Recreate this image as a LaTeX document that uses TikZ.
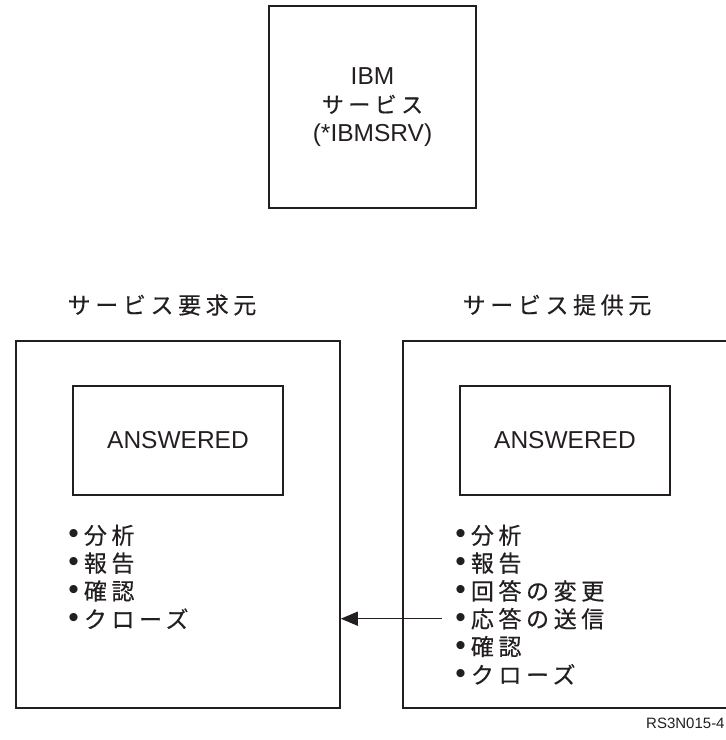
\documentclass[tikz,border=0pt]{standalone}
\usepackage{fontspec}
\setmainfont{Liberation Sans}
\newfontfamily\jpFont[LetterSpace=20, FakeBold=0.4]{Noto Sans CJK JP}
\usetikzlibrary{positioning, arrows.meta}
\tikzstyle{figure} = [x = .5pt, y = -.5pt]
\definecolor{lineColor}{RGB}{35,31,32}
\tikzstyle{boxStyle} = [draw=lineColor, line width=.8pt, inner sep=0pt, align=center]
\tikzstyle{latinText} = [font=\fontsize{12.25}{14.25}\selectfont, text=lineColor]
\tikzstyle{jpText} = [font=\fontsize{11.5}{13.9}\selectfont\jpFont, text=lineColor]
\tikzstyle{listItem} = [jpText, anchor=west, inner sep=0pt]
\tikzstyle{messageArrow} = [draw=lineColor, line width=.7pt, -{Triangle[length=8.5pt, width=7pt]}]
\newcommand{\listBullet}{{\rmfamily\fontsize{15}{15}\selectfont\textbullet}}
\newcommand{\partnerBox}[3]{
  \node [boxStyle, minimum width=162pt, minimum height=183.5pt] (#1) at (#2, 524.5) {};
  \node [boxStyle, latinText, minimum width=105pt, minimum height=54.5pt] (#1Status) at (#2, 440.5) {ANSWERED};
  \foreach \entry [count=\i] in {#3} {
    \node [listItem] (#1Item\i) at (#2 - 110, 507.5 + 27.8 * \i) {\listBullet\hspace{2.5pt}\entry};
  }
}

\begin{document}
\begin{tikzpicture}[figure]
  \useasboundingbox (0,0) rectangle (725,740);
  \node [boxStyle, latinText, minimum width=103.5pt, minimum height=101pt] (ibmService) at (372.5, 107)
    {IBM\\{\fontsize{11}{14.25}\selectfont\jpFont サービス}\\(*IBMSRV)};

  \partnerBox{req}{178}{分析,報告,確認,クローズ}
  \partnerBox{prov}{565}{分析,報告,回答の変更,応答の送信,確認,クローズ}
  \node [jpText] (reqTitle) at (162, 305) {サービス要求元};
  \node [jpText] (provTitle) at (557, 305) {サービス提供元};

  \draw [messageArrow] ([xshift=-6.5pt]provItem4.west) -- (provItem4.west -| req.east);

  \node [font=\fontsize{7.5}{8}\selectfont, text=lineColor, anchor=east, inner sep=0pt] (figureId) at (725, 723) {RS3N015-4};
\end{tikzpicture}
\end{document}
